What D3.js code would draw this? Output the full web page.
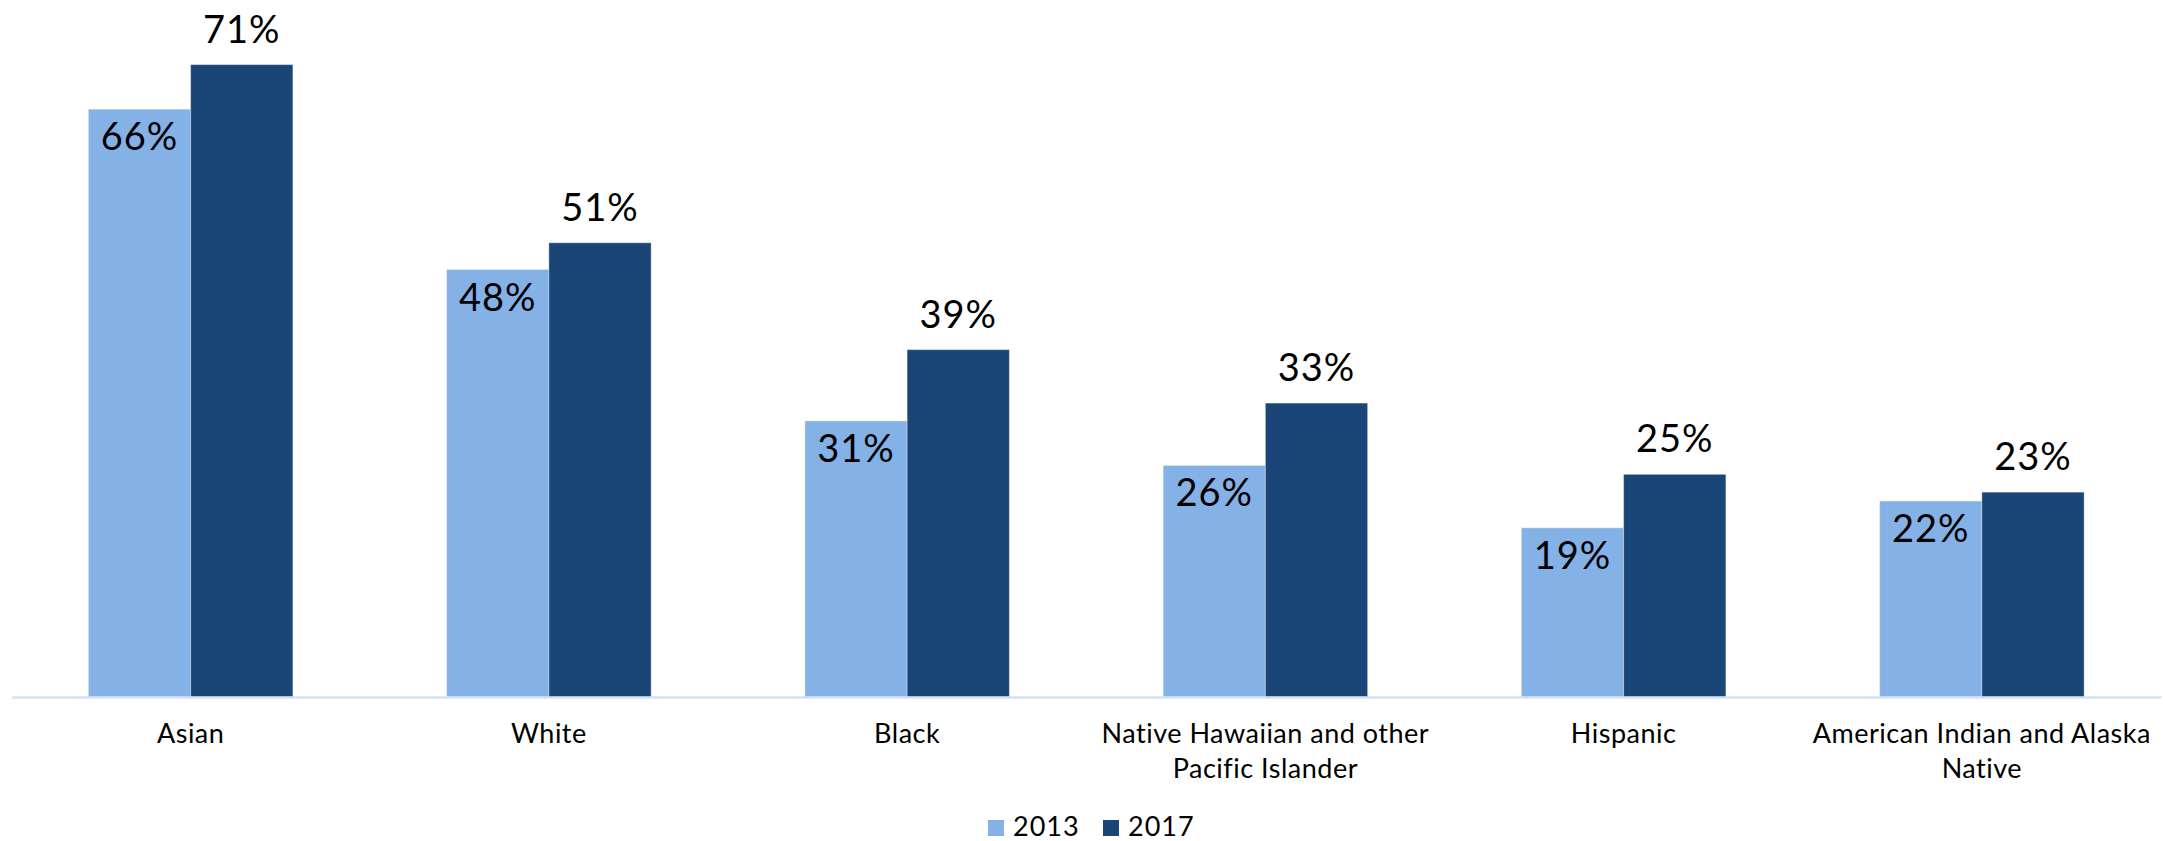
<!DOCTYPE html>
<html>
<head>
<meta charset="utf-8">
<script src="https://cdn.jsdelivr.net/npm/d3@7/dist/d3.min.js"></script>
<style>
  html, body { margin: 0; padding: 0; background: #ffffff; }
  svg { display: block; }
  text { font-family: "Century Gothic", "Futura", "Lato", "Noto Sans", sans-serif; fill: #000; }
</style>
</head>
<body>
<svg id="chart" width="2165" height="841"></svg>
<script>
const categories = ["Asian", "White", "Black", "Native Hawaiian and other Pacific Islander", "Hispanic", "American Indian and Alaska Native"];
const tickLabels = [["Asian"], ["White"], ["Black"], ["Native Hawaiian and other", "Pacific Islander"], ["Hispanic"], ["American Indian and Alaska", "Native"]];
const series = ["2013", "2017"];
const values2013 = [0.66, 0.48, 0.31, 0.26, 0.19, 0.22];
const values2017 = [0.71, 0.51, 0.39, 0.33, 0.25, 0.23];
const colors = ["#84B1E6", "#194577"];

const seriesValues = [values2013, values2017];
const data = categories.map((c, i) => ({
  cat: c,
  vals: series.map((s, j) => ({ series: s, idx: j, value: seriesValues[j][i] }))
}));

const svg = d3.select("#chart");
const baseY = 697;

const x0 = d3.scaleBand().domain(categories).range([11.5, 2161]).paddingInner(0).paddingOuter(0);
const x1 = d3.scaleBand().domain(series).range([0, x0.bandwidth()]).paddingInner(0).paddingOuter(0.752);
const y = d3.scaleLinear().domain([0, 0.8]).range([baseY, baseY - 712.5]);
const color = d3.scaleOrdinal().domain(series).range(colors);
const fmt = d3.format(".0%");

// bars
const groups = svg.append("g").selectAll("g")
  .data(data).join("g")
  .attr("transform", d => `translate(${x0(d.cat)},0)`);

groups.selectAll("rect")
  .data(d => d.vals).join("rect")
  .attr("x", d => x1(d.series))
  .attr("width", x1.bandwidth())
  .attr("y", d => y(d.value))
  .attr("height", d => y(0) - y(d.value))
  .attr("fill", d => color(d.series))
  .attr("stroke", "#ffffff")
  .attr("stroke-opacity", 0.35)
  .attr("stroke-width", 1);

// data labels: 2013 inside end, 2017 outside end
groups.selectAll("text.val")
  .data(d => d.vals).join("text")
  .attr("class", "val")
  .attr("x", d => x1(d.series) + x1.bandwidth() / 2)
  .attr("y", d => d.idx === 0 ? y(d.value) + 41 : y(d.value) - 22)
  .attr("text-anchor", "middle")
  .style("font-size", "38px")
  .style("letter-spacing", "1px")
  .text(d => fmt(d.value));

// x axis
const xAxis = d3.axisBottom(x0).tickSize(0).tickFormat("");
const axisG = svg.append("g").attr("transform", `translate(0,${baseY})`).call(xAxis);
axisG.select(".domain").attr("stroke", "#D5E1F3").attr("stroke-width", 2.5);

// category labels
const labelG = svg.append("g");
categories.forEach((c, i) => {
  const t = labelG.append("text")
    .attr("x", x0(c) + x0.bandwidth() / 2)
    .attr("y", 743)
    .attr("text-anchor", "middle")
    .style("font-size", "27px")
    .style("letter-spacing", "0.5px");
  tickLabels[i].forEach((line, k) => {
    t.append("tspan")
      .attr("x", x0(c) + x0.bandwidth() / 2)
      .attr("dy", k === 0 ? 0 : 35)
      .text(line);
  });
});

// legend
const legendX = [988, 1103];
const legend = svg.append("g").selectAll("g")
  .data(series).join("g")
  .attr("transform", (d, i) => `translate(${legendX[i]},820)`);
legend.append("rect")
  .attr("width", 16).attr("height", 16)
  .attr("fill", d => color(d));
legend.append("text")
  .attr("x", 25).attr("y", 16)
  .style("font-size", "27px")
  .style("letter-spacing", "1px")
  .text(d => d);
</script>
</body>
</html>
